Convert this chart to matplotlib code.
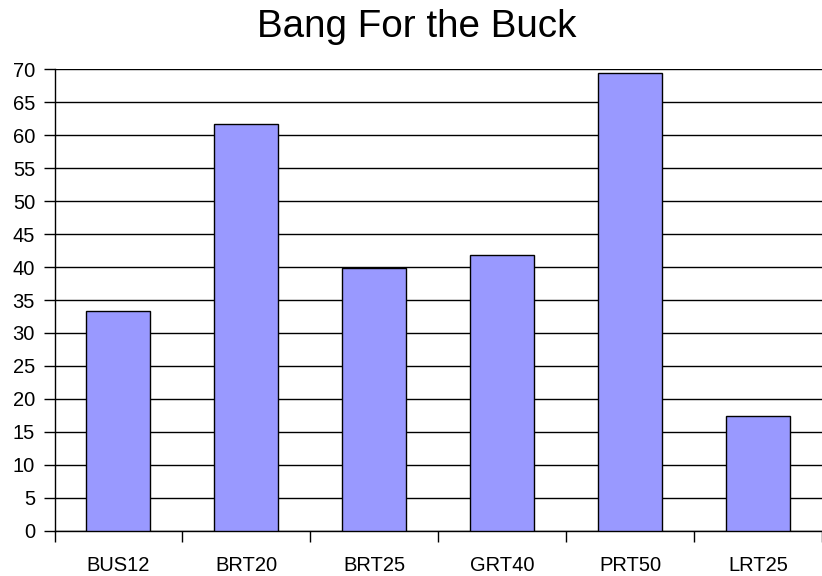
import matplotlib
matplotlib.use("Agg")
import matplotlib.pyplot as plt
from matplotlib.ticker import FixedLocator

categories = ["BUS12", "BRT20", "BRT25", "GRT40", "PRT50", "LRT25"]
values = [33.3, 61.75, 39.8, 41.8, 69.5, 17.45]
yticks = list(range(0, 71, 5))

plt.rcParams['font.family'] = ['Liberation Sans', 'DejaVu Sans']

fig = plt.figure(figsize=(8.22, 5.76), dpi=100)
ax = fig.add_axes([54.5/822, 1-530.7/576, 1-54.5/822, (530.7-69.3)/576])

x = list(range(len(categories)))
ax.bar(x, values, width=0.5, color="#9999FF", edgecolor="black", linewidth=1.0, zorder=3)

ax.set_xlim(-0.5, len(categories)-0.5)
ax.set_ylim(0, 70)
ax.set_yticks(yticks)
ax.set_yticklabels([str(t) for t in yticks], fontsize=14.5)
ax.yaxis.grid(True, color="black", linewidth=1.0, zorder=0)
ax.set_axisbelow(True)

ax.set_xticks(x)
ax.set_xticklabels(categories, fontsize=14.5)
ax.xaxis.set_minor_locator(FixedLocator([i - 0.5 for i in range(len(categories)+1)]))
ax.tick_params(axis='x', which='major', length=0, pad=18)
ax.tick_params(axis='x', which='minor', length=8, width=1, color='black')
ax.tick_params(axis='y', which='major', length=8, width=1, pad=6)

for s in ['top', 'right']:
    ax.spines[s].set_visible(False)
for s in ['left', 'bottom']:
    ax.spines[s].set_color('black')
    ax.spines[s].set_linewidth(1.0)

fig.text(0.507, 1-27/576, "Bang For the Buck", fontsize=27.8, ha='center', va='center')

fig.savefig("out.png", dpi=100)
